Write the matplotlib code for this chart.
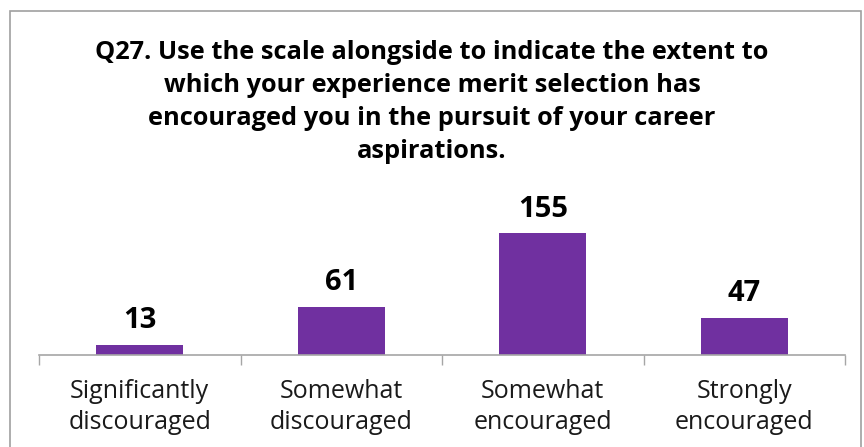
import matplotlib.pyplot as plt
from matplotlib.patches import Rectangle

# survey responses
categories = ["Significantly\ndiscouraged", "Somewhat\ndiscouraged",
              "Somewhat\nencouraged", "Strongly\nencouraged"]
counts = [13, 61, 155, 47]
title = ("Q27. Use the scale alongside to indicate the extent to\n"
         "which your experience merit selection has\n"
         "encouraged you in the pursuit of your career\n"
         "aspirations.")

plt.rcParams['font.family'] = ['Open Sans', 'DejaVu Sans']

fig = plt.figure(figsize=(8.64, 4.47), dpi=100)
ax = fig.add_axes([39 / 864, 92 / 447, 806 / 864, 157 / 447])

x = list(range(len(counts)))
bars = ax.bar(x, counts, width=0.43, color='#7030A0')

for xi, v in zip(x, counts):
    ax.annotate(str(v), (xi, v), xytext=(0, 7), textcoords='offset points',
                ha='center', va='bottom', fontsize=21, fontweight='bold')

ax.set_xlim(-0.5, len(counts) - 0.5)
ax.set_ylim(0, 200)
ax.set_yticks([])
ax.set_xticks(x)
ax.set_xticklabels(categories, fontsize=18, color='#1a1a1a', linespacing=1.32)
ax.set_xticks([i - 0.5 for i in range(len(counts) + 1)], minor=True)
ax.tick_params(axis='x', which='major', length=0, pad=17)
ax.tick_params(axis='x', which='minor', length=7, color='#a6a6a6', width=1)
for s in ['top', 'right', 'left']:
    ax.spines[s].set_visible(False)
ax.spines['bottom'].set_color('#a6a6a6')
ax.spines['bottom'].set_linewidth(1.2)

fig.text(0.5, 0.91, title, ha='center', va='top', fontsize=18.3,
         fontweight='bold', linespacing=1.42)

# chart border
fig.patches.append(Rectangle((10 / 864, -0.05), 851 / 864, 1.05 - 11 / 447,
                             transform=fig.transFigure, fill=False,
                             edgecolor='#a0a0a0', linewidth=1.2))

fig.savefig('out.png', dpi=100)
